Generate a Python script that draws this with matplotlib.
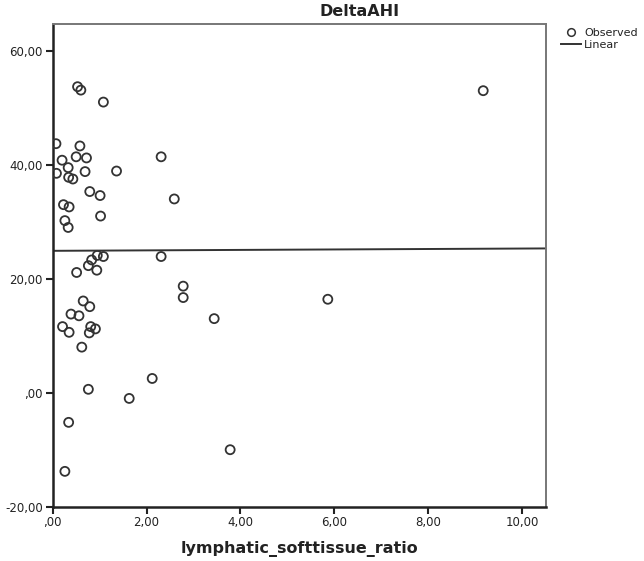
import matplotlib
matplotlib.use("Agg")
import matplotlib.pyplot as plt
import numpy as np

# observed points (lymphatic_softtissue_ratio, DeltaAHI)
ratio = [0.53, 0.60, 1.08, 0.07, 0.58, 0.20, 0.50, 0.72, 2.31, 0.33,
         0.08, 0.69, 1.36, 0.34, 0.43, 0.79, 1.01, 2.59, 0.23, 0.35,
         1.02, 0.26, 0.33, 0.95, 1.08, 0.83, 0.76, 0.94, 0.51, 2.31,
         2.78, 2.78, 0.65, 0.79, 0.39, 0.56, 0.21, 0.35, 0.81, 0.91,
         0.78, 0.62, 2.12, 0.76, 1.63, 0.34, 0.26, 5.86, 3.44, 3.78,
         9.17]
delta_ahi = [53.7, 53.1, 51.0, 43.7, 43.3, 40.8, 41.4, 41.2, 41.4, 39.5,
             38.5, 38.8, 38.9, 37.8, 37.5, 35.3, 34.6, 34.0, 33.0, 32.6,
             31.0, 30.2, 29.0, 24.1, 23.9, 23.3, 22.3, 21.5, 21.1, 23.9,
             18.7, 16.7, 16.1, 15.1, 13.8, 13.5, 11.6, 10.6, 11.6, 11.2,
             10.5, 8.0, 2.5, 0.6, -1.0, -5.2, -13.8, 16.4, 13.0, -10.0,
             53.0]

# linear fit line
fit_intercept = 24.9
fit_slope = 0.04

x_ticks = [0, 2, 4, 6, 8, 10]
x_tick_labels = [",00", "2,00", "4,00", "6,00", "8,00", "10,00"]
y_ticks = [-20, 0, 20, 40, 60]
y_tick_labels = ["-20,00", ",00", "20,00", "40,00", "60,00"]

text_col = "#222222"
mark_col = "#333333"

fig = plt.figure(figsize=(6.44, 5.61), dpi=100)
ax = fig.add_axes([0.0818, 0.0968, 0.7655, 0.8604])

ax.scatter(ratio, delta_ahi, s=42, facecolors="none", edgecolors=mark_col,
           linewidths=1.3, zorder=3)

xl = np.array([0, 10.5])
ax.plot(xl, fit_intercept + fit_slope * xl, color=mark_col, linewidth=1.4, zorder=2)

ax.set_xlim(0, 10.5)
ax.set_ylim(-20, 64.7)
ax.set_xticks(x_ticks)
ax.set_xticklabels(x_tick_labels)
ax.set_yticks(y_ticks)
ax.set_yticklabels(y_tick_labels)
ax.tick_params(axis="both", direction="out", length=5, width=1.5,
               labelsize=8.5, labelcolor=text_col, color="#222222", pad=2)

for side in ["left", "bottom"]:
    ax.spines[side].set_linewidth(1.8)
    ax.spines[side].set_color("#222222")
for side in ["top", "right"]:
    ax.spines[side].set_linewidth(1.4)
    ax.spines[side].set_color("#777777")

ax.set_xlabel("lymphatic_softtissue_ratio", fontsize=11.5, fontweight="bold",
              color=text_col, labelpad=8)

fig.text(360 / 644, 1 - 12 / 561, "DeltaAHI", fontsize=11.5, fontweight="bold",
         color=text_col, ha="center", va="center")

# legend drawn like SPSS: small marker + line keys at the right
fig.legend(handles=[
    plt.Line2D([], [], marker="o", linestyle="none", markersize=5.5,
               markerfacecolor="none", markeredgecolor=mark_col, markeredgewidth=1.1),
    plt.Line2D([], [], color=mark_col, linewidth=1.4)],
    labels=["Observed", "Linear"], loc="upper left",
    bbox_to_anchor=(561 / 644, 1 - 28 / 561), frameon=False, fontsize=8,
    handlelength=1.8, handletextpad=0.3, labelspacing=0.15, borderpad=0,
    borderaxespad=0, labelcolor=text_col)

plt.savefig("out.png", dpi=100)
